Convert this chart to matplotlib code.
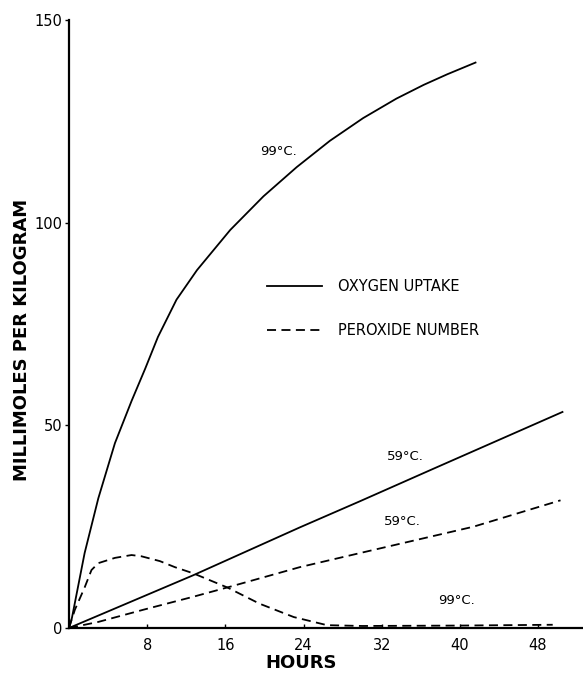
import matplotlib
matplotlib.use("Agg")
import matplotlib.pyplot as plt

# --- data ---
o2_99_hours = [0, 0.3, 1.6, 3.0, 4.7, 6.4, 7.8, 9.1, 11.0, 13.1, 16.5, 19.9, 23.3,
               26.7, 30.1, 33.5, 36.3, 38.7, 41.6]
o2_99_vals = [0, 2.5, 18.5, 32, 45.6, 56, 64, 71.8, 81, 88.3, 98.2, 106.5, 113.7,
              120.2, 125.8, 130.6, 134, 136.6, 139.5]

o2_59_hours = [0, 12.7, 23.6, 29.8, 37.3, 50.5]
o2_59_vals = [0, 13, 24.8, 31.3, 39.3, 53.3]

px_59_hours = [0, 3, 7.6, 12.7, 16.2, 23.6, 29.8, 41.4, 50.3]
px_59_vals = [0, 1.5, 4.5, 7.7, 10, 15, 18.5, 25, 31.5]

px_99_hours = [0, 0.6, 1.6, 2.3, 3.0, 4.7, 6.4, 7.4, 9.3, 10.85, 12.7, 16.2, 19.5, 23,
               26.4, 30, 40, 49.5]
px_99_vals = [0, 4.5, 10, 14.3, 16, 17.3, 18, 17.7, 16.5, 15, 13.5, 10, 6, 2.7,
              0.7, 0.5, 0.6, 0.8]

x_ticks = [8, 16, 24, 32, 40, 48]
y_ticks = [0, 50, 100, 150]

W, H = 583, 676
fig = plt.figure(figsize=(W / 100, H / 100), dpi=100)
ax = fig.add_axes([69 / W, 48 / H, 514 / W, 608 / H])

lw = 1.3
dash = [5, 3]
ax.plot(o2_99_hours, o2_99_vals, color="black", lw=lw, label="OXYGEN UPTAKE")
ax.plot(o2_59_hours, o2_59_vals, color="black", lw=lw)
ax.plot(px_59_hours, px_59_vals, color="black", lw=lw, dashes=dash, label="PEROXIDE NUMBER")
ax.plot(px_99_hours, px_99_vals, color="black", lw=lw, dashes=dash)

ax.set_xlim(0, 52.6)
ax.set_ylim(0, 150)
for s in ["top", "right"]:
    ax.spines[s].set_visible(False)
for s in ["left", "bottom"]:
    ax.spines[s].set_linewidth(1.6)

ax.set_xticks(x_ticks)
ax.set_xticklabels([str(t) for t in x_ticks])
ax.set_yticks(y_ticks)
ax.set_yticklabels([str(t) for t in y_ticks])
ax.tick_params(axis="x", direction="in", length=3, width=1, labelsize=10.5, pad=7)
ax.tick_params(axis="y", direction="out", length=3, width=1, labelsize=10.5, pad=2)

fs = 10.5
ax.text(19.6, 117.5, "99°C.", fontsize=9.5, ha="left", va="center")
ax.text(32.5, 42.3, "59°C.", fontsize=9.5, ha="left", va="center")
ax.text(32.2, 26.3, "59°C.", fontsize=9.5, ha="left", va="center")
ax.text(37.8, 6.8, "99°C.", fontsize=9.5, ha="left", va="center")

ax.legend(loc="upper left", bbox_to_anchor=(0.385, 0.574), frameon=False,
          fontsize=fs, handlelength=3.8, handletextpad=1.05, labelspacing=2.0,
          borderpad=0, borderaxespad=0)

fig.text(22 / W, 1 - 340 / H, "MILLIMOLES PER KILOGRAM", rotation=90,
         ha="center", va="center", fontsize=13, fontweight="bold")
fig.text(301 / W, 1 - 663 / H, "HOURS", ha="center", va="center",
         fontsize=13, fontweight="bold")

fig.savefig("out.png", dpi=100)
